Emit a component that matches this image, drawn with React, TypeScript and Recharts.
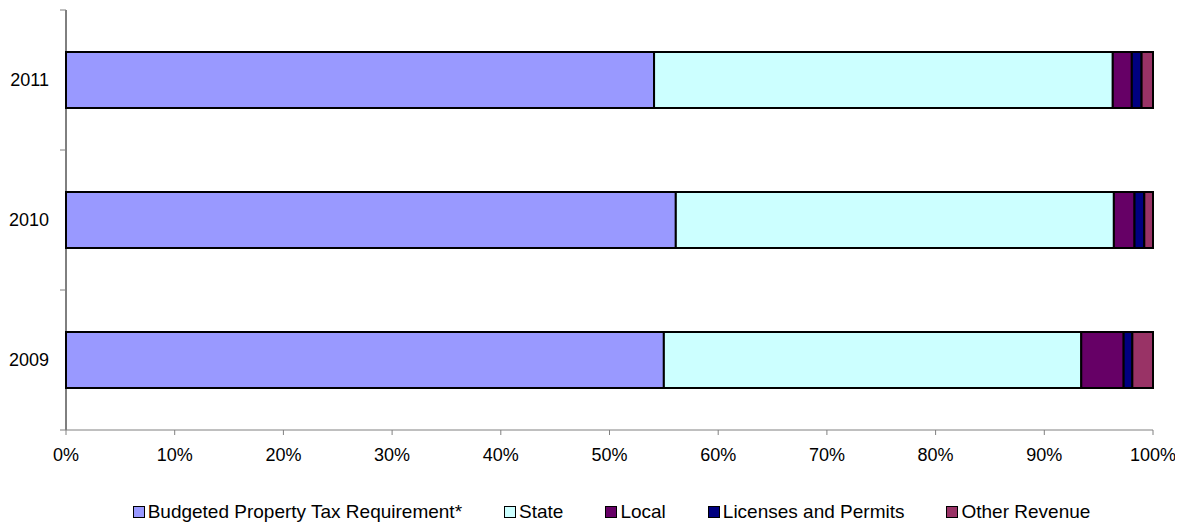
import { BarChart, Bar, XAxis, YAxis, Legend } from "recharts";

const years = ["2011", "2010", "2009"];
const propertyTax = [54.1, 56.1, 55.0];
const state = [42.2, 40.3, 38.4];
const local = [1.75, 1.9, 3.9];
const licenses = [0.9, 0.9, 0.8];
const otherRevenue = [1.05, 0.8, 1.9];
const xTicks = [0, 10, 20, 30, 40, 50, 60, 70, 80, 90, 100];

const series = [
  { key: "tax", name: "Budgeted Property Tax Requirement*", color: "#9999FF", values: propertyTax },
  { key: "state", name: "State", color: "#CCFFFF", values: state },
  { key: "local", name: "Local", color: "#660066", values: local },
  { key: "lic", name: "Licenses and Permits", color: "#000080", values: licenses },
  { key: "other", name: "Other Revenue", color: "#993366", values: otherRevenue },
];

const data = years.map((year, i) => {
  const row: Record<string, string | number> = { year };
  series.forEach((s) => (row[s.key] = s.values[i]));
  return row;
});

const font = "'Liberation Sans', Arial, sans-serif";
const labelGap = 17;

// label at band centre, plus Excel-style tick marks on the band edges
const YearTick = (props: any) => {
  const { x, y, payload, index, visibleTicksCount } = props;
  const half = payload.offset ?? 0;
  const axisX = x + labelGap;
  return (
    <g>
      <line x1={axisX - 6} x2={axisX} y1={y - half} y2={y - half} stroke="#808080" />
      {index === visibleTicksCount - 1 && (
        <line x1={axisX - 6} x2={axisX} y1={y + half} y2={y + half} stroke="#808080" />
      )}
      <text x={x} y={y} dy="0.355em" textAnchor="end" fill="#000" fontSize={18} fontFamily={font}>
        {payload.value}
      </text>
    </g>
  );
};

const LegendBox = () => (
  <div
    style={{
      display: "flex",
      justifyContent: "center",
      gap: 42,
      paddingTop: 11,
      paddingLeft: 62,
      fontFamily: font,
      fontSize: 19,
      color: "#000",
      whiteSpace: "nowrap",
    }}
  >
    {series.map((s) => (
      <div key={s.key} style={{ display: "flex", alignItems: "center" }}>
        <span
          style={{
            width: 10,
            height: 10,
            background: s.color,
            border: "1.5px solid #000",
            marginRight: 3,
          }}
        />
        <span>{s.name}</span>
      </div>
    ))}
  </div>
);

export default function App() {
  return (
    <BarChart
      width={1175}
      height={515}
      data={data}
      layout="vertical"
      barCategoryGap="30%"
      margin={{ top: 2, right: 30, left: 0, bottom: 0 }}
    >
      <YAxis
        type="category"
        dataKey="year"
        width={58}
        tickLine={false}
        tickSize={0}
        tickMargin={labelGap}
        axisLine={{ stroke: "#000" }}
        tick={<YearTick />}
      />
      <XAxis
        type="number"
        domain={[0, 100]}
        ticks={xTicks}
        tickFormatter={(v) => `${v}%`}
        height={60}
        tickSize={5}
        tickMargin={13}
        axisLine={{ stroke: "#808080" }}
        tickLine={{ stroke: "#808080" }}
        tick={{ fill: "#000", fontSize: 18, fontFamily: font }}
      />
      {series.map((s) => (
        <Bar
          key={s.key}
          dataKey={s.key}
          name={s.name}
          stackId="a"
          fill={s.color}
          stroke="#000"
          strokeWidth={2}
          isAnimationActive={false}
        />
      ))}
      <Legend verticalAlign="bottom" height={33} content={() => <LegendBox />} />
    </BarChart>
  );
}
